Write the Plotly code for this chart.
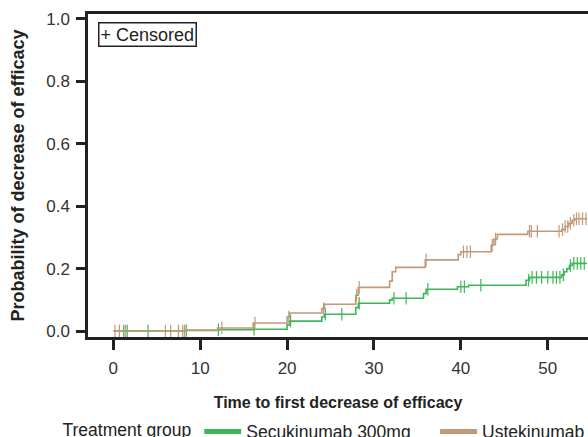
import numpy as np
import plotly.graph_objects as go

# Step data: cumulative probability of decrease of efficacy
sec_times = [0, 8.3, 12.0, 16.1, 20.0, 20.3, 24.0, 24.3, 27.9, 28.2, 31.8, 32.1,
             35.7, 36.0, 39.6, 40.9, 47.5, 47.9, 51.6, 51.9, 52.2, 52.5, 52.8, 54.5]
sec_prob = [0, 0.002, 0.004, 0.006, 0.020, 0.032, 0.045, 0.054, 0.075, 0.089, 0.100, 0.105,
            0.120, 0.134, 0.142, 0.147, 0.163, 0.172, 0.180, 0.190, 0.200, 0.210, 0.217, 0.217]
sec_censor = [1.2, 1.6, 4.0, 8.4, 12.1, 16.2, 20.4, 24.4, 26.3, 28.3, 32.3, 33.7, 36.2,
              40.0, 40.4, 42.3, 47.8, 48.2, 48.7, 49.3, 50.0, 50.6, 51.0, 51.4, 51.8,
              52.6, 53.0, 53.4, 53.8, 54.2]

ust_times = [0, 8.3, 12.0, 16.1, 20.0, 20.3, 24.0, 24.3, 27.9, 28.2, 31.8, 32.1, 32.5,
             35.9, 39.7, 40.0, 43.5, 43.8, 44.2, 47.7, 51.6, 52.0, 52.4, 52.8, 53.1, 54.5]
ust_prob = [0, 0.003, 0.010, 0.026, 0.045, 0.058, 0.072, 0.086, 0.115, 0.140, 0.160, 0.190, 0.204,
            0.228, 0.245, 0.254, 0.275, 0.295, 0.310, 0.320, 0.325, 0.335, 0.345, 0.355, 0.360, 0.360]
ust_censor = [0.2, 0.7, 1.4, 6.0, 6.6, 7.5, 8.0, 8.2, 12.5, 16.3, 20.2, 24.2, 28.0, 28.3,
              36.0, 40.3, 40.7, 41.1, 43.6, 44.0, 47.9, 48.1, 48.8, 51.3, 51.7, 52.0,
              52.3, 52.6, 53.0, 53.3, 53.6, 54.0, 54.4]

x_ticks = [0, 10, 20, 30, 40, 50]
y_ticks = [0.0, 0.2, 0.4, 0.6, 0.8, 1.0]
y_labels = ["0.0", "0.2", "0.4", "0.6", "0.8", "1.0"]

GREEN = "#3db657"
BROWN = "#c29877"
FONT = "Liberation Sans, Arial, sans-serif"


def step_at(times, probs, t):
    idx = np.searchsorted(np.array(times), np.array(t), side="right") - 1
    return [probs[i] for i in idx]


fig = go.Figure()

series = [
    ("Secukinumab 300mg", sec_times, sec_prob, sec_censor, GREEN),
    ("Ustekinumab", ust_times, ust_prob, ust_censor, BROWN),
]

for name, t, p, c, col in series:
    fig.add_trace(go.Scatter(x=t, y=p, mode="lines", line=dict(color=col, width=1.6, shape="hv"),
                             showlegend=False, hoverinfo="skip"))
    fig.add_trace(go.Scatter(x=c, y=step_at(t, p, c), mode="markers",
                             marker=dict(symbol="line-ns", size=9, line=dict(color=col, width=1.2)),
                             showlegend=False, hoverinfo="skip"))

legend_pad = ["\u00a0\u00a0\u00a0\u00a0", ""]
for (name, t, p, c, col), pad in zip(series, legend_pad):
    fig.add_trace(go.Scatter(x=[None], y=[None], mode="lines", name=name + pad,
                             line=dict(color=col, width=5)))

fig.add_annotation(x=0.02, y=0.976, xref="paper", yref="paper", xanchor="left", yanchor="top",
                   text="+ Censored", showarrow=False,
                   font=dict(size=18, color="#222", family=FONT), bordercolor="#222", borderwidth=1.5,
                   borderpad=1, bgcolor="white")

fig.update_layout(
    width=588, height=437,
    margin=dict(l=88, r=0, t=14, b=100, autoexpand=False),
    paper_bgcolor="white", plot_bgcolor="white",
    font=dict(family=FONT, size=17, color="#222"),
    xaxis=dict(range=[-2.91, 54.63], tickvals=x_ticks, showgrid=False, zeroline=False,
               showline=True, linecolor="#222", linewidth=2.5, mirror=True,
               ticks="outside", ticklen=10, tickwidth=2.5, tickcolor="#222",
               tickfont=dict(size=17, color="#333"), automargin=False, ticklabelstandoff=4,
               title=dict(text="<b>Time to first decrease of efficacy</b>", font=dict(size=16, color="#222"),
                          standoff=20)),
    yaxis=dict(range=[-0.019, 1.016], tickvals=y_ticks, ticktext=y_labels, showgrid=False,
               zeroline=False, showline=True, linecolor="#222", linewidth=2.5,
               ticks="outside", ticklen=9, tickwidth=2.5, tickcolor="#222",
               tickfont=dict(size=17, color="#333"), automargin=False, ticklabelstandoff=3,
               title=dict(text="<b>Probability of decrease of efficacy</b>", font=dict(size=18, color="#222"),
                          standoff=17)),
    legend=dict(orientation="h", x=-0.055, xanchor="left", y=-0.237, yanchor="top",
                title=dict(text="Treatment group", font=dict(size=17.5, color="#222")),
                font=dict(size=17.5, color="#222"), itemwidth=37, tracegroupgap=0),
)

fig.write_html(
    "out.html",
    config={"displayModeBar": False},
    post_script="document.body.style.margin='0px';document.documentElement.style.overflow='hidden';",
)
